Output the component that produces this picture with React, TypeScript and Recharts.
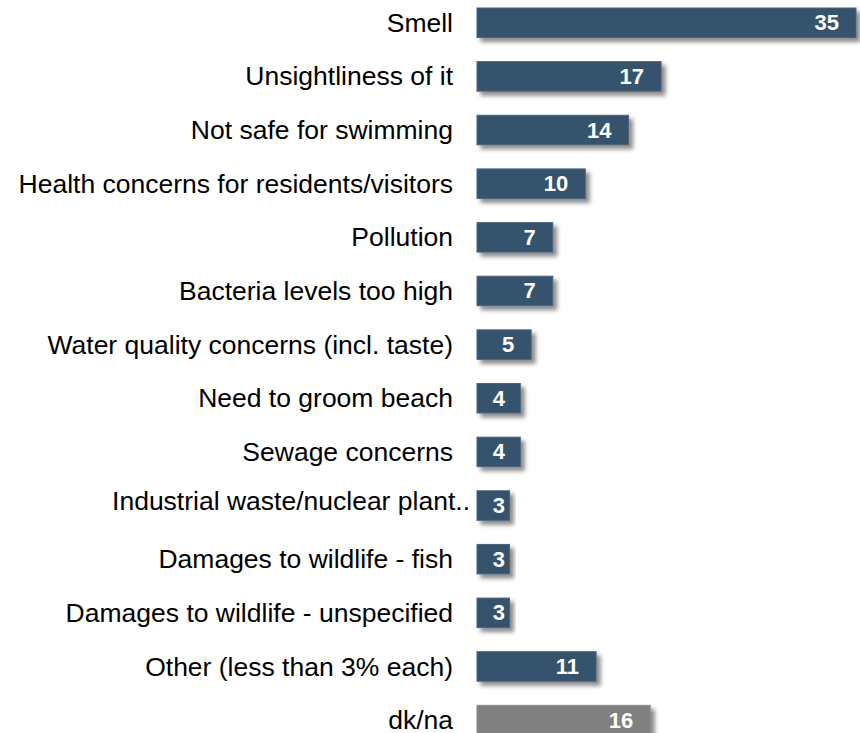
import { Bar, BarChart, LabelList, XAxis, YAxis } from "recharts";

const CATEGORIES = [
    "Smell",
    "Unsightliness of it",
    "Not safe for swimming",
    "Health concerns for residents/visitors",
    "Pollution",
    "Bacteria levels too high",
    "Water quality concerns (incl. taste)",
    "Need to groom beach",
    "Sewage concerns",
    "Industrial waste/nuclear plant..",
    "Damages to wildlife - fish",
    "Damages to wildlife - unspecified",
    "Other (less than 3% each)",
    "dk/na",
];

const VALUES = [35, 17, 14, 10, 7, 7, 5, 4, 4, 3, 3, 3, 11, 16];

const MAIN_COLOR = "#36536c";
const DKNA_COLOR = "#808080";
const FONT = "Arial, 'Liberation Sans', sans-serif";

const data = CATEGORIES.map((category, i) => ({ category, value: VALUES[i] }));

const ShadowBar = (props: any) => {
    const { x, y, width, height, payload } = props;
    const isDkna = payload.category === "dk/na";
    return (
        <rect
            x={x}
            y={y}
            width={width}
            height={height}
            fill={isDkna ? DKNA_COLOR : MAIN_COLOR}
            stroke={isDkna ? "#8c8c8c" : "#48647c"}
            strokeWidth={1}
            filter="url(#barShadow)"
        />
    );
};

// value label sits inside the bar end, but never past the bar start
const ValueLabel = (props: any) => {
    const { x, y, width, height, value } = props;
    const tx = Math.max(x + width - 17, x + 28);
    return (
        <text
            x={tx}
            y={y + height / 2}
            textAnchor="end"
            dominantBaseline="central"
            fill="#ffffff"
            fontSize={22}
            fontWeight="bold"
            fontFamily={FONT}
        >
            {value}
        </text>
    );
};

// truncated label in the original sits a bit higher and further right
const CategoryTick = (props: any) => {
    const { x, y, payload } = props;
    const label = String(payload.value);
    const truncated = label.endsWith("..");
    return (
        <text
            x={truncated ? x + 17 : x}
            y={y + (truncated ? -5 : 0)}
            textAnchor="end"
            dominantBaseline="central"
            fill="#000"
            fontSize={26.5}
            fontFamily={FONT}
        >
            {label}
        </text>
    );
};

export default function App() {
    return (
        <div style={{ position: "fixed", top: 0, left: 0, width: 860, height: 733, overflow: "hidden", background: "#fff" }}>
            <div style={{ marginTop: -4 }}>
                <BarChart
                    width={860}
                    height={751}
                    data={data}
                    layout="vertical"
                    margin={{ top: 0, right: 4, bottom: 0, left: 0 }}
                    barCategoryGap={0}
                >
                    <defs>
                        <filter id="barShadow" x="-10%" y="-30%" width="130%" height="190%">
                            <feDropShadow dx={4} dy={4} stdDeviation={2.2} floodColor="#000" floodOpacity={0.45} />
                        </filter>
                    </defs>
                    <XAxis type="number" domain={[0, 35]} hide />
                    <YAxis
                        type="category"
                        dataKey="category"
                        width={477}
                        axisLine={false}
                        tickLine={false}
                        tickSize={24}
                        tickMargin={0}
                        interval={0}
                        tick={CategoryTick}
                    />
                    <Bar dataKey="value" barSize={29.5} shape={ShadowBar} isAnimationActive={false}>
                        <LabelList dataKey="value" content={ValueLabel} />
                    </Bar>
                </BarChart>
            </div>
        </div>
    );
}
